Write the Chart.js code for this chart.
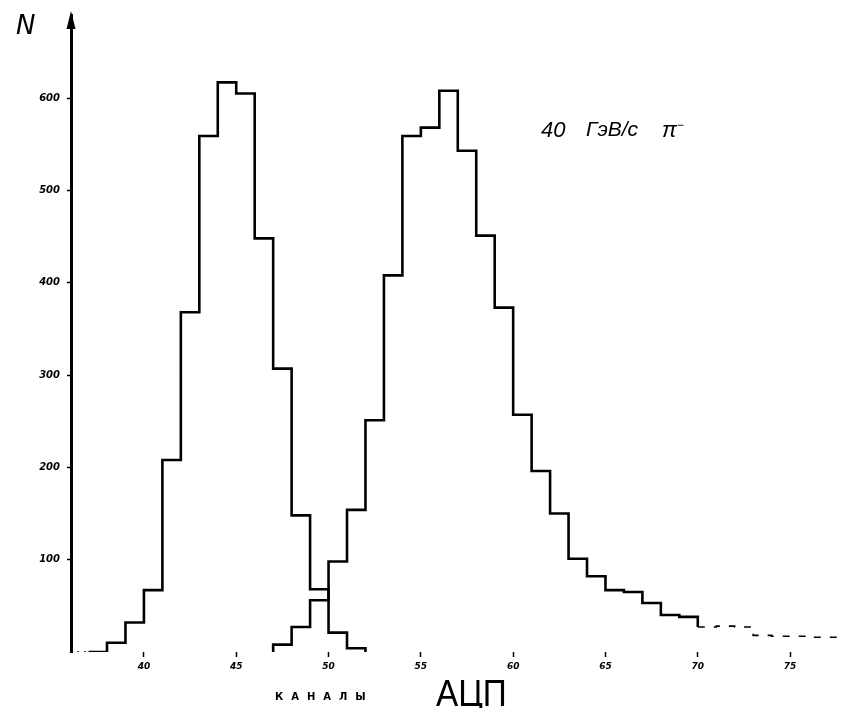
<!DOCTYPE html>
<html>
<head>
<meta charset="utf-8">
<script src="https://cdn.jsdelivr.net/npm/chart.js@4"></script>
<style>
  html, body { margin: 0; padding: 0; background: #fff; }
  #wrap { position: relative; width: 868px; height: 708px; overflow: hidden; background: #fff; }
  canvas { position: absolute; left: 0; top: 0; }
  .lbl { position: absolute; color: #000; white-space: nowrap; line-height: 1; }
</style>
</head>
<body>
<div id="wrap">
  <canvas id="c" width="868" height="708"></canvas>
  <div class="lbl" style="left:16px;top:10px;font:italic 26px 'DejaVu Sans';">N</div>
  <div class="lbl" style="left:541px;top:117px;font:italic 22px 'Liberation Sans';">40</div>
  <div class="lbl" style="left:586px;top:117px;font:italic 21px 'Liberation Sans';">ГэВ/с</div>
  <div class="lbl" style="left:662px;top:117px;font:italic 22px 'Liberation Sans';">π<sup style="font-size:12px;">−</sup></div>
  <div class="lbl" style="left:275px;top:691px;font:bold 10px 'DejaVu Sans';letter-spacing:8px;">КАНАЛЫ</div>
  <div class="lbl" style="left:436px;top:673px;font:normal 37px 'Liberation Sans';transform:scaleX(0.9);transform-origin:left top;">АЦП</div>
</div>
<script>
// ---- data ----
const xTickLabels = [40, 45, 50, 55, 60, 65, 70, 75];
const yTickLabels = [100, 200, 300, 400, 500, 600];

// left histogram: counts per ADC channel, first bin starts at channel 36
const leftStartChannel = 36;
const leftCounts = [0, 0, 10, 32, 67, 208, 368, 559, 617, 605, 448, 307, 148, 68, 21, 4];

// right histogram: counts per ADC channel, first bin starts at channel 47
const rightStartChannel = 47;
const rightCounts = [8, 27, 56, 98, 154, 251, 408, 559, 568, 608, 543, 451, 373, 257, 196,
                     150, 101, 82, 67, 65, 53, 40, 38, 27, 28, 27, 18, 17, 17, 16, 16];

// build step points (left edges + closing edge)
function stepPoints(start, counts, closeToZero) {
  const pts = [{ x: start, y: 0 }];
  counts.forEach((v, i) => pts.push({ x: start + i, y: v }));
  pts.push({ x: start + counts.length, y: closeToZero ? 0 : counts[counts.length - 1] });
  return pts;
}

const faint = ctx => (ctx.p0.parsed.y === 0 && ctx.p1.parsed.y === 0) || ctx.p0.parsed.x >= 70;
const segDash = ctx => (ctx.p0.parsed.y === 0 && ctx.p1.parsed.y === 0) ? [2, 5]
                     : (ctx.p0.parsed.x >= 70 ? [7, 9] : undefined);
const segWidth = ctx => faint(ctx) ? 1.6 : undefined;

const arrowPlugin = {
  id: 'arrow',
  afterDraw(chart) {
    const ctx = chart.ctx;
    const x = chart.chartArea.left;
    const top = chart.chartArea.top;
    ctx.save();
    ctx.fillStyle = '#000';
    ctx.beginPath();
    ctx.moveTo(x, top - 4);
    ctx.lineTo(x - 4.5, top + 14);
    ctx.lineTo(x + 4.5, top + 14);
    ctx.closePath();
    ctx.fill();
    ctx.restore();
  }
};

new Chart(document.getElementById('c'), {
  type: 'line',
  data: {
    datasets: [
      {
        data: stepPoints(leftStartChannel, leftCounts, true),
        borderColor: '#000',
        borderWidth: 2.6,
        stepped: true,
        pointRadius: 0,
        fill: false,
        segment: { borderDash: segDash, borderWidth: segWidth }
      },
      {
        data: stepPoints(rightStartChannel, rightCounts, false),
        borderColor: '#000',
        borderWidth: 2.6,
        stepped: true,
        pointRadius: 0,
        fill: false,
        segment: { borderDash: segDash, borderWidth: segWidth }
      }
    ]
  },
  options: {
    responsive: false,
    animation: false,
    devicePixelRatio: 1,
    layout: { padding: { top: 15, right: 0, left: 0, bottom: 0 } },
    plugins: { legend: { display: false }, tooltip: { enabled: false }, title: { display: false } },
    scales: {
      x: {
        type: 'linear',
        min: 36.05,
        max: 79.22,
        afterFit: s => { s.height = 56; },
        afterBuildTicks: s => { s.ticks = xTickLabels.map(v => ({ value: v })); },
        border: { display: false },
        grid: { drawOnChartArea: false, drawTicks: true, tickLength: 5, tickWidth: 1.5, tickColor: '#000' },
        ticks: {
          color: '#000',
          padding: 4,
          maxRotation: 0,
          autoSkip: false,
          font: { family: 'DejaVu Sans', size: 9, weight: 'bold', style: 'italic' },
          callback: v => String(v)
        }
      },
      y: {
        type: 'linear',
        min: 0,
        max: 690,
        afterFit: s => { s.width = 71; },
        afterBuildTicks: s => { s.ticks = yTickLabels.map(v => ({ value: v })); },
        border: { display: true, color: '#000', width: 3 },
        grid: { drawOnChartArea: false, drawTicks: true, tickLength: 4, tickWidth: 1.5, tickColor: '#000' },
        ticks: {
          color: '#000',
          padding: 7,
          font: { family: 'DejaVu Sans', size: 10, weight: 'bold', style: 'italic' },
          callback: v => String(v)
        }
      }
    }
  },
  plugins: [arrowPlugin]
});
</script>
</body>
</html>
